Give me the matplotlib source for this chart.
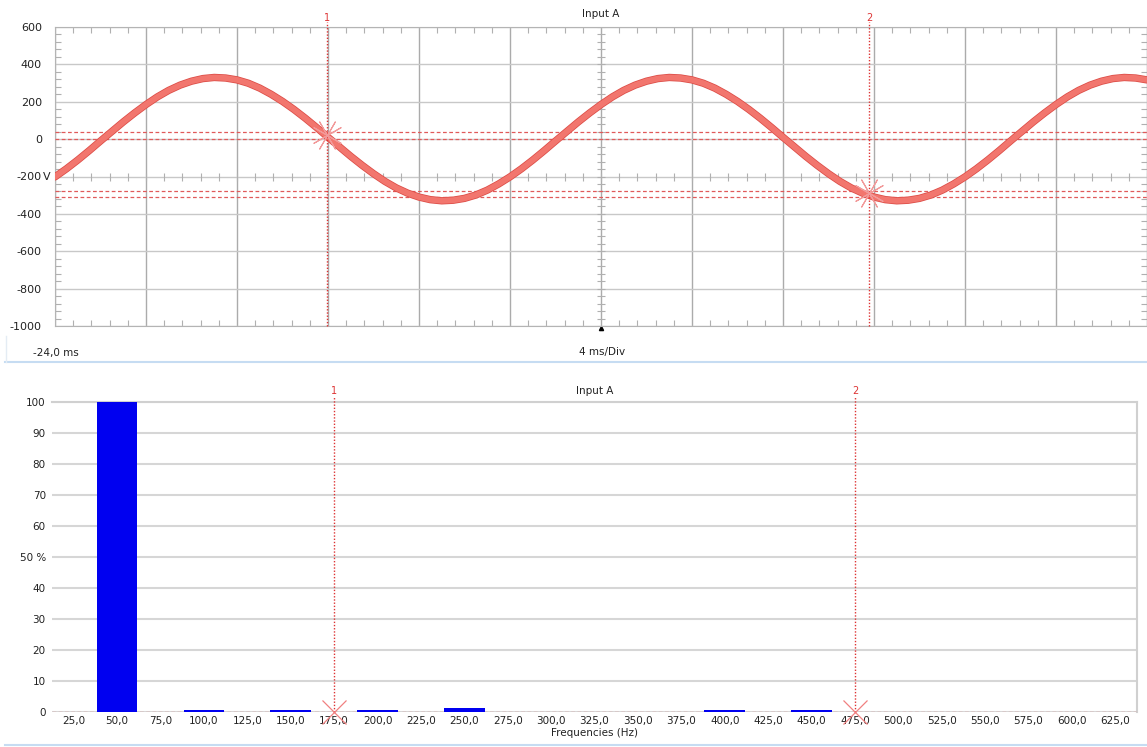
import matplotlib
matplotlib.use('Agg')
import matplotlib.pyplot as plt
import matplotlib.patheffects as pe
from matplotlib.lines import Line2D
from matplotlib.transforms import ScaledTranslation
from matplotlib.ticker import MultipleLocator
import numpy as np

# scope trace, Input A: one sample every 0.5 ms from -24 ms (V)
time_ms = np.arange(-24, 24.01, 0.5)
voltage = [-202, -159, -112, -62, -10, 41, 92, 140, 185, 226,
           261, 289, 310, 324, 330, 327, 317, 299, 273, 240,
           202, 159, 112, 62, 10, -41, -92, -140, -185, -226,
           -261, -289, -310, -324, -330, -327, -317, -299, -273, -240,
           -202, -159, -112, -62, -10, 41, 92, 140, 185, 226,
           261, 289, 310, 324, 330, 327, 317, 299, 273, 240,
           202, 159, 112, 62, 10, -41, -92, -140, -185, -226,
           -261, -289, -310, -324, -330, -327, -317, -299, -273, -240,
           -202, -159, -112, -62, -10, 41, 92, 140, 185, 226,
           261, 289, 310, 324, 330, 327, 317]
cursor_t = [-12.05, 11.8]
cursor_v = [20, -290]
cursor_levels = [37, 0, -280, -311]
cursor_names = ['1', '2']
volt_ticks = [600, 400, 200, 0, -200, -400, -600, -800, -1000]
volt_labels = ['600', '400', '200', '0', '-200', '-400', '-600', '-800', '-1000']

# harmonic spectrum (% of fundamental)
freqs = [50, 100, 150, 200, 250, 400, 450]
amps = [100, 0.6, 0.6, 0.6, 1.3, 0.6, 0.6]
cursor_f = [175, 475]
freq_ticks = list(range(25, 626, 25))
pct_ticks = list(range(0, 101, 10))

W, H = 1147, 747
fig = plt.figure(figsize=(W / 100, H / 100), dpi=100)
plt.rcParams['font.family'] = ['DejaVu Sans']


def px_rect(l, t, r, b):
    return [l / W, 1 - b / H, (r - l) / W, (b - t) / H]


def cursor_star(ax, xs, ys, color, **kw):
    # two rotated crosses give the many-armed cursor marker
    for ang in (30, 60):
        ax.plot(xs, ys, ls='none', marker=(4, 2, ang), ms=23, mew=0.8,
                color=color, **kw)


RED = '#dd3333'
TXT = '#222222'

# ---------- time domain ----------
ax1 = fig.add_axes(px_rect(55, 27, 1147, 326))
ax1.set_xlim(-24, -24 + 1092 / 91.3 * 4)
ax1.set_ylim(-1000, 600)
ax1.set_xticks(np.arange(-24, 25, 4))
ax1.set_yticks(volt_ticks)
ax1.set_yticklabels(volt_labels, fontsize=8, color=TXT)
ax1.grid(True, axis='x', color='#ababab', lw=1)
ax1.grid(True, axis='y', color='#c8c8c8', lw=1)
ax1.tick_params(axis='x', which='major', length=0, labelbottom=False)
ax1.tick_params(axis='y', which='major', length=0, pad=9.5)
ax1.xaxis.set_minor_locator(MultipleLocator(0.8))
ax1.yaxis.set_minor_locator(MultipleLocator(40))
ax1.tick_params(which='minor', direction='in', length=4, width=0.8,
                color='#b0b0b0', top=True, bottom=True, left=True, right=True)
for s in ax1.spines.values():
    s.set_color('#b4b4b4')
ax1.text(-0.011, -200, 'V', transform=ax1.get_yaxis_transform(),
         ha='left', va='center', fontsize=8, color=TXT)

# crossing ticks on the centre axes
minor_t = np.arange(-24, 24.01, 0.8)
minor_v = np.arange(-1000, 600.1, 40)
ax1.plot(minor_t, [-200] * len(minor_t), ls='none', marker='|', ms=5.5,
         mew=0.8, color='#b0b0b0')
ax1.plot([0] * len(minor_v), minor_v, ls='none', marker='_', ms=5.5,
         mew=0.8, color='#b0b0b0')

for lv in cursor_levels:
    ax1.axhline(lv, color='#e05a5a', lw=0.9, ls=(0, (3, 2)), zorder=3)

ax1.plot(time_ms, voltage, color='#f2766e', lw=4.2, solid_capstyle='round',
         solid_joinstyle='round', zorder=4,
         path_effects=[pe.Stroke(linewidth=5.3, foreground='#dc4c46'),
                       pe.Normal()])

for t, name in zip(cursor_t, cursor_names):
    ax1.plot([t, t], [-1000, 627], color=RED, lw=1, ls=(0, (1, 1.3)),
             clip_on=False, zorder=5)
    ax1.text(t, 648, name, ha='center', va='center', fontsize=7, color=RED)
cursor_star(ax1, cursor_t, cursor_v, '#f29a9a', zorder=6)
ax1.plot([0], [-1000], ls='none', marker='^', ms=3, color='black',
         clip_on=False,
         transform=ax1.transData + ScaledTranslation(0, -2 / 100, fig.dpi_scale_trans))

ax1.set_title('Input A', fontsize=7.5, pad=7, color=TXT)
fig.text(33 / W, 1 - 353 / H, '-24,0 ms', fontsize=7.5, va='center', color=TXT)
fig.text(602 / W, 1 - 352 / H, '4 ms/Div', fontsize=7.5, va='center',
         ha='center', color=TXT)

# panel separators
fig.add_artist(Line2D([5 / W, 1], [1 - 362 / H] * 2, color='#c6dcf2', lw=1.5))
fig.add_artist(Line2D([6 / W, 6 / W], [1 - 362 / H, 1 - 336 / H],
                      color='#e4ecf4', lw=1))
fig.add_artist(Line2D([5 / W, 1], [1 - 745 / H] * 2, color='#c6dcf2', lw=1.5))

# ---------- spectrum ----------
ax2 = fig.add_axes(px_rect(52, 402, 1137, 712))
ax2.set_xlim(12.5, 637.5)
ax2.set_ylim(0, 100)
ax2.bar(freqs, amps, width=23.5, color='#0000f0', linewidth=0, zorder=5)
ax2.set_yticks(pct_ticks)
ax2.set_yticklabels([('50 %' if p == 50 else str(p)) for p in pct_ticks],
                    fontsize=7.5, color=TXT)
ax2.set_xticks(freq_ticks)
ax2.set_xticklabels([f'{f},0' for f in freq_ticks], fontsize=7.5, color=TXT)
ax2.tick_params(axis='y', length=0, pad=4.5)
ax2.tick_params(axis='x', length=0, pad=3)
ax2.grid(True, axis='y', color='#d6d6d6', lw=1.5)
ax2.set_axisbelow(True)
for k in ['left', 'bottom']:
    ax2.spines[k].set_visible(False)
for k in ['top', 'right']:
    ax2.spines[k].set_color('#d0d0d0')
    ax2.spines[k].set_linewidth(1.5)
ax2.axhline(0, color='#e07070', lw=0.9, ls=(0, (3, 2)), zorder=4)

for f, name in zip(cursor_f, cursor_names):
    ax2.plot([f, f], [0, 101.5], color=RED, lw=1, ls=(0, (1, 1.3)),
             clip_on=False, zorder=6)
    ax2.text(f, 103.5, name, ha='center', va='center', fontsize=7, color=RED)
ax2.plot(cursor_f, [0, 0], ls='none', marker='x', ms=17, mew=0.9,
         color='#f08080', clip_on=False, zorder=7)

ax2.set_title('Input A', fontsize=7.5, pad=6, color=TXT)
ax2.set_xlabel('Frequencies (Hz)', fontsize=7.5, labelpad=1, color=TXT)

fig.savefig('out.png', dpi=100, facecolor='white')
